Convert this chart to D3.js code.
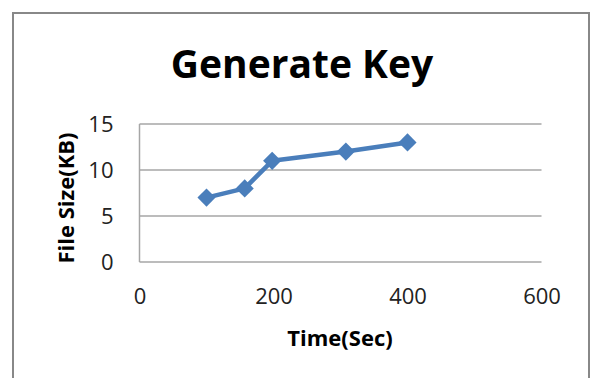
<!DOCTYPE html>
<html><head><meta charset="utf-8">
<script src="https://cdn.jsdelivr.net/npm/d3@7"></script>
<style>body{margin:0;background:#fff;} svg{display:block;}</style>
</head><body>
<script>
const title = "Generate Key";
const xLabel = "Time(Sec)";
const yLabel = "File Size(KB)";
const timeSec = [100, 157, 198, 308, 400];
const fileSizeKB = [7, 8, 11, 12, 13];
const xTicks = [0, 200, 400, 600];
const yTicks = [0, 5, 10, 15];

const W = 591, H = 378;
const svg = d3.select("body").append("svg").attr("width", W).attr("height", H);
const font = "'Open Sans', Lato, sans-serif";

svg.append("rect").attr("x", 13).attr("y", 13).attr("width", 576).attr("height", 380)
  .attr("fill", "#fff").attr("stroke", "#888").attr("stroke-width", 2);

const x = d3.scaleLinear().domain([0, 600]).range([139.5, 541.5]);
const y = d3.scaleLinear().domain([0, 15]).range([262, 124]);

svg.append("g").selectAll("line").data(yTicks).join("line")
  .attr("x1", x(0)).attr("x2", x(600)).attr("y1", d => y(d)).attr("y2", d => y(d))
  .attr("stroke", "#a6a6a6").attr("stroke-width", 1.5);
svg.append("line").attr("x1", x(0)).attr("x2", x(0)).attr("y1", y(15)).attr("y2", y(0))
  .attr("stroke", "#a6a6a6").attr("stroke-width", 1.5);

const xAxis = svg.append("g").attr("transform", `translate(0,${y(0)})`)
  .call(d3.axisBottom(x).tickValues(xTicks).tickSize(0).tickPadding(35));
xAxis.select(".domain").remove();
xAxis.selectAll("text").attr("font-family", font).attr("font-size", 22).attr("fill", "#222").attr("dy", "0.32em");

const yAxis = svg.append("g").attr("transform", `translate(${x(0)},0)`)
  .call(d3.axisLeft(y).tickValues(yTicks).tickSize(0).tickPadding(26));
yAxis.select(".domain").remove();
yAxis.selectAll("text").attr("font-family", font).attr("font-size", 22).attr("fill", "#222");

const pts = timeSec.map((t, i) => [t, fileSizeKB[i]]);
svg.append("path").datum(pts)
  .attr("d", d3.line().x(d => x(d[0])).y(d => y(d[1])))
  .attr("fill", "none").attr("stroke", "#4a7ebb").attr("stroke-width", 4.5).attr("stroke-linejoin", "round");

svg.append("g").selectAll("path").data(pts).join("path")
  .attr("d", d3.symbol().type(d3.symbolDiamond2).size(210))
  .attr("transform", d => `translate(${x(d[0])},${y(d[1])})`)
  .attr("fill", "#4a7ebb");

svg.append("text").attr("x", 302).attr("y", 78).attr("text-anchor", "middle")
  .attr("font-family", font).attr("font-weight", "bold").attr("font-size", 39).attr("fill", "#000").text(title);

svg.append("text").attr("x", 340).attr("y", 346).attr("text-anchor", "middle")
  .attr("font-family", font).attr("font-weight", "bold").attr("font-size", 22).attr("fill", "#000").text(xLabel);

svg.append("text").attr("transform", "translate(74,198) rotate(-90)").attr("text-anchor", "middle")
  .attr("font-family", font).attr("font-weight", "bold").attr("font-size", 22).attr("fill", "#000").text(yLabel);
</script>
</body></html>
